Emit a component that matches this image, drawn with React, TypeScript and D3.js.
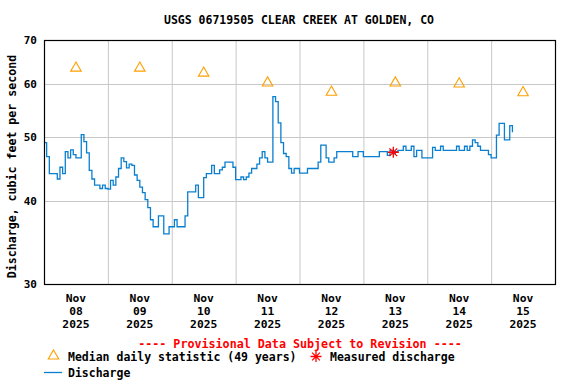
import React, { useEffect, useRef } from 'react';
import * as d3 from 'd3';

const chartTitle = 'USGS 06719505 CLEAR CREEK AT GOLDEN, CO';
const yLabel = 'Discharge, cubic feet per second';
const provisionalNote = '---- Provisional Data Subject to Revision ----';

// hourly discharge starting Nov 08 2025 00:00
const startTime = new Date(2025, 10, 8, 0, 0);
const endTime = new Date(2025, 10, 16, 0, 0);

const discharge = [
  49, 46.7, 44, 44, 44, 43.2, 45, 44, 47.5, 46.5, 47.8, 47, 46.5, 46.5, 50.4, 49.2,
  47.3, 44.5, 43.2, 42.3, 42.3, 41.8, 42.3, 41.8,
  41.7, 43, 42.3, 43.5, 44.8, 46.5, 45.9, 44.9, 45.5, 45.3, 43.8, 43, 42, 41.2, 40.2, 39.1,
  37.5, 36.6, 36.6, 38, 38, 35.7, 35.7, 36.6,
  36.6, 37.5, 36.6, 36.6, 36.6, 38, 41.3, 41.3, 41.3, 42.3, 40.5, 40.5, 43.4, 44, 44, 45.3,
  44, 44, 44.6, 45, 45.8, 45.8, 45.8, 45,
  43.1, 43.1, 43.5, 43.1, 43.5, 44.1, 44.8, 44.8, 45.5, 46.5, 47.5, 46.5, 45.8, 45.8, 57.5, 56.5,
  52.5, 49, 47.2, 46.7, 44.8, 44.1, 44.8, 44.8,
  44.1, 44.1, 44.1, 44.8, 44.8, 44.8, 44.8, 45.8, 48.6, 48.6, 46.5, 45.8, 45.8, 46.5, 47.5, 47.5,
  47.5, 47.5, 47.5, 47.5, 46.7, 46.7, 47.5, 47.5,
  46.7, 46.7, 46.7, 46.7, 46.7, 46.7, 47.5, 47.5, 47.5, 46.9, 47.7, 47.2, 47.5, 47.7, 47.7, 48.4,
  47.7, 47.7, 48.4, 46.7, 47.7, 47.7, 46.5, 46.5,
  46.5, 46.5, 48.2, 47.7, 47.7, 48.4, 47.7, 47.7, 47.7, 47.7, 47.7, 48.4, 47.7, 47.7, 48.4, 47.7,
  48.4, 49.5, 49, 48.4, 47.7, 47.7, 47.7, 47,
  46.5, 46.5, 50.3, 52.4, 52.4, 49.5, 49.5, 52, 50.8,
];

const dayLabels = ['08', '09', '10', '11', '12', '13', '14', '15'];
const medianValues = [63.5, 63.5, 62.4, 60.3, 58.4, 60.3, 60.1, 58.3];
const measuredTime = new Date(2025, 10, 13, 11, 15);
const measuredValue = 47.4;
const yTicks = [30, 40, 50, 60, 70];

const font = '"DejaVu Sans Mono", monospace';
const lineColor = '#0a7fd0';
const medianColor = '#ff9f00';
const starColor = '#ff0000';

const starPath = (r: number) => {
  let p = '';
  for (let i = 0; i < 4; i++) {
    const a = (i * Math.PI) / 4;
    const dx = r * Math.cos(a);
    const dy = r * Math.sin(a);
    p += `M${-dx},${-dy}L${dx},${dy}`;
  }
  return p;
};

const App = () => {
  const svgRef = useRef<SVGSVGElement>(null);

  useEffect(() => {
    const root = d3.select(svgRef.current);
    root.selectAll('*').remove();

    const width = 576;
    const margin = { top: 40, right: 21, bottom: 100, left: 44 };
    const plotW = width - margin.left - margin.right;
    const plotH = 384 - margin.top - margin.bottom;

    root.append('rect').attr('width', width).attr('height', 384).attr('fill', '#fff');

    const x = d3.scaleTime().domain([startTime, endTime]).range([0, plotW]);
    const y = d3.scaleLog().domain([30, 70]).range([plotH, 0]);

    root.append('text')
      .attr('x', 299)
      .attr('y', 24)
      .attr('text-anchor', 'middle')
      .attr('font-family', font)
      .attr('font-weight', 'bold')
      .attr('font-size', '11.5px')
      .text(chartTitle);

    const g = root.append('g').attr('transform', `translate(${margin.left},${margin.top})`);

    // grid
    const days = d3.timeDay.range(startTime, endTime).slice(1);
    g.selectAll('.vgrid')
      .data(days)
      .join('line')
      .attr('x1', d => x(d) + 0.5)
      .attr('x2', d => x(d) + 0.5)
      .attr('y1', 0)
      .attr('y2', plotH)
      .attr('stroke', '#c8c8c8')
      .attr('stroke-width', 1);

    g.selectAll('.hgrid')
      .data(yTicks.slice(1, -1))
      .join('line')
      .attr('x1', 0)
      .attr('x2', plotW)
      .attr('y1', d => Math.round(y(d)) + 0.5)
      .attr('y2', d => Math.round(y(d)) + 0.5)
      .attr('stroke', '#c8c8c8')
      .attr('stroke-width', 1);

    // discharge line
    const line = d3.line<number>()
      .x((_, i) => x(new Date(startTime.getTime() + i * 3600000)))
      .y(d => y(d))
      .curve(d3.curveStepAfter);

    g.append('path')
      .datum(discharge)
      .attr('fill', 'none')
      .attr('stroke', lineColor)
      .attr('stroke-width', 1.3)
      .attr('d', line);

    // medians
    const noons = dayLabels.map((_, i) => new Date(2025, 10, 8 + i, 12));
    g.selectAll('.median')
      .data(medianValues)
      .join('path')
      .attr('transform', (d, i) => `translate(${x(noons[i])},${y(d)})`)
      .attr('d', d3.symbol(d3.symbolTriangle, 48)())
      .attr('fill', 'none')
      .attr('stroke', medianColor)
      .attr('stroke-width', 1.1);

    // measured discharge
    g.append('path')
      .attr('transform', `translate(${x(measuredTime)},${y(measuredValue)})`)
      .attr('d', starPath(5.5))
      .attr('stroke', starColor)
      .attr('stroke-width', 1.3);

    // frame
    g.append('rect')
      .attr('x', 0.5)
      .attr('y', 0.5)
      .attr('width', plotW)
      .attr('height', plotH)
      .attr('fill', 'none')
      .attr('stroke', '#000')
      .attr('stroke-width', 1.2);

    // y tick labels
    g.selectAll('.ylab')
      .data(yTicks)
      .join('text')
      .attr('x', -7)
      .attr('y', d => y(d) + 4)
      .attr('text-anchor', 'end')
      .attr('font-family', font)
      .attr('font-weight', 'bold')
      .attr('font-size', '11px')
      .text(d => d);

    root.append('text')
      .attr('transform', 'translate(16,166.5) rotate(-90)')
      .attr('text-anchor', 'middle')
      .attr('font-family', font)
      .attr('font-weight', 'bold')
      .attr('font-size', '11.6px')
      .text(yLabel);

    // x tick labels
    const xl = g.selectAll('.xlab')
      .data(dayLabels)
      .join('text')
      .attr('text-anchor', 'middle')
      .attr('font-family', font)
      .attr('font-weight', 'bold')
      .attr('font-size', '11.3px');
    xl.append('tspan').attr('x', (_, i) => x(noons[i])).attr('y', plotH + 18).text('Nov');
    xl.append('tspan').attr('x', (_, i) => x(noons[i])).attr('y', plotH + 31).text(d => d);
    xl.append('tspan').attr('x', (_, i) => x(noons[i])).attr('y', plotH + 44).text('2025');

    root.append('text')
      .attr('x', 300)
      .attr('y', 347.5)
      .attr('text-anchor', 'middle')
      .attr('font-family', font)
      .attr('font-weight', 'bold')
      .attr('font-size', '11.7px')
      .attr('fill', starColor)
      .text(provisionalNote);

    // legend
    const leg = root.append('g')
      .attr('font-family', font)
      .attr('font-weight', 'bold')
      .attr('font-size', '11.5px');
    leg.append('path')
      .attr('transform', 'translate(53.5,356)')
      .attr('d', d3.symbol(d3.symbolTriangle, 48)())
      .attr('fill', 'none')
      .attr('stroke', medianColor)
      .attr('stroke-width', 1.1);
    leg.append('text').attr('x', 68).attr('y', 361).text('Median daily statistic (49 years)');
    leg.append('path')
      .attr('transform', 'translate(316,356.5)')
      .attr('d', starPath(5.5))
      .attr('stroke', starColor)
      .attr('stroke-width', 1.3);
    leg.append('text').attr('x', 330).attr('y', 361).text('Measured discharge');
    leg.append('line')
      .attr('x1', 44).attr('x2', 62)
      .attr('y1', 372.5).attr('y2', 372.5)
      .attr('stroke', lineColor)
      .attr('stroke-width', 1.3);
    leg.append('text').attr('x', 68).attr('y', 377).text('Discharge');
  }, []);

  return (
    <svg
      ref={svgRef}
      width={576}
      height={384}
      style={{ position: 'absolute', left: 0, top: 0, display: 'block' }}
    />
  );
};

export default App;
